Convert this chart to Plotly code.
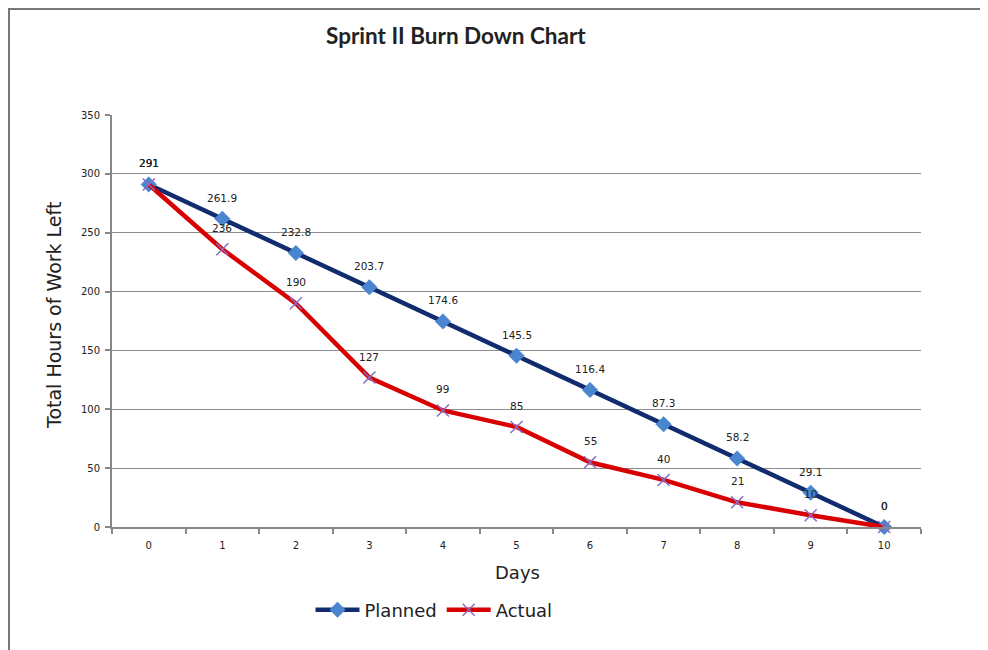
import plotly.graph_objects as go

days = [0, 1, 2, 3, 4, 5, 6, 7, 8, 9, 10]
day_labels = [str(d) for d in days]
planned = [291, 261.9, 232.8, 203.7, 174.6, 145.5, 116.4, 87.3, 58.2, 29.1, 0]
actual = [291, 236, 190, 127, 99, 85, 55, 40, 21, 10, 0]

# figure sits 8px inside the page (body margin)
W, H = 980, 642
ml, mr, mt, mb = 104, 67, 107, 123
pw, ph = W - ml - mr, H - mt - mb


def px_x(x):
    return (x - ml) / pw


def px_y(y):
    return 1 - (y - mt) / ph


LBL = "DejaVu Sans, Liberation Sans, Arial"

fig = go.Figure()
fig.add_trace(go.Scatter(
    x=day_labels, y=planned, name="Planned", mode="lines+markers",
    line=dict(color="#112C6E", width=4.5),
    marker=dict(symbol="diamond", size=12, color="#4A86D0", line=dict(color="#4A86D0", width=0.5)),
    cliponaxis=False,
))
fig.add_trace(go.Scatter(
    x=day_labels, y=actual, name="Actual", mode="lines+markers",
    line=dict(color="#D80000", width=4.5),
    marker=dict(symbol="x-thin-open", size=12, color="#8A6CC4", line=dict(color="#8A6CC4", width=1.5)),
    cliponaxis=False,
))

annotations = []
for series in (planned, actual):
    for d, v in zip(day_labels, series):
        annotations.append(dict(x=d, y=v, xref="x", yref="y", text=f"{v:g}", showarrow=False,
                                yshift=21, xanchor="center", yanchor="middle",
                                font=dict(family=LBL, size=10.5, color="#222")))

annotations += [
    dict(text="<b>Sprint II Burn Down Chart</b>", xref="paper", yref="paper",
         x=px_x(448), y=px_y(27), xanchor="center", yanchor="middle",
         showarrow=False, font=dict(family="Lato, Open Sans", size=22.5, color="#222")),
    dict(text="Total Hours of Work Left", xref="paper", yref="paper", textangle=-90,
         x=px_x(46), y=px_y(308), xanchor="center", yanchor="middle",
         showarrow=False, font=dict(family=LBL, size=19, color="#222")),
    dict(text="Days", xref="paper", yref="paper",
         x=px_x(509), y=px_y(564), xanchor="center", yanchor="middle",
         showarrow=False, font=dict(family=LBL, size=18, color="#222")),
]

fig.update_layout(
    width=W, height=H,
    margin=dict(l=ml, r=mr, t=mt, b=mb),
    paper_bgcolor="white", plot_bgcolor="white",
    font=dict(family=LBL, color="#222"),
    showlegend=True,
    legend=dict(orientation="h", x=px_x(426), xanchor="center",
                y=px_y(602), yanchor="middle",
                font=dict(size=18, color="#222"), itemwidth=44, tracegroupgap=0),
    xaxis=dict(type="category", range=[-0.5, 10.5], tickson="boundaries",
               ticks="outside", ticklen=5, tickcolor="#888", tickwidth=1.5,
               showline=True, linecolor="#888", linewidth=2,
               showgrid=False, tickfont=dict(size=10, color="#222"), ticklabelstandoff=8),
    yaxis=dict(range=[0, 350], dtick=50, ticks="outside", ticklen=5, tickcolor="#888", tickwidth=1.5,
               showline=True, linecolor="#888", linewidth=2,
               showgrid=True, gridcolor="#8c8c8c", gridwidth=1,
               zeroline=False, tickfont=dict(size=10, color="#222"), ticklabelstandoff=3),
    annotations=annotations,
    shapes=[
        dict(type="line", xref="paper", yref="paper", x0=px_x(0), x1=px_x(W + 5),
             y0=px_y(1), y1=px_y(1), line=dict(color="#777", width=2)),
        dict(type="line", xref="paper", yref="paper", x0=px_x(1), x1=px_x(1),
             y0=px_y(0), y1=px_y(H + 5), line=dict(color="#777", width=2)),
    ],
)

fig.write_html("out.html")
